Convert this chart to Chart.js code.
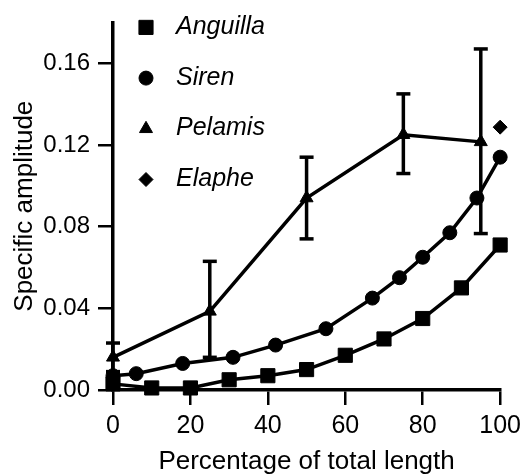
<!DOCTYPE html>
<html lang="en">
<head>
<meta charset="UTF-8">
<title>Specific amplitude</title>
<script src="https://cdn.jsdelivr.net/npm/chart.js"></script>
<style>
  body { margin: 0; background: #fff; }
  #chart { display: block; }
</style>
</head>
<body>
<canvas id="chart" width="527" height="475"></canvas>
<script>
// values
const anguillaX = [0, 10, 20, 30, 40, 50, 60, 70, 80, 90, 100];
const anguillaY = [0.003, 0.001, 0.001, 0.005, 0.007, 0.010, 0.017, 0.025, 0.035, 0.050, 0.071];

const sirenX = [0, 6, 18, 31, 42, 55, 67, 74, 80, 87, 94, 100];
const sirenY = [0.007, 0.008, 0.013, 0.016, 0.022, 0.030, 0.045, 0.055, 0.065, 0.077, 0.094, 0.114];

const pelamisX = [0, 25, 50, 75, 95];
const pelamisY = [0.016, 0.0385, 0.094, 0.125, 0.1215];
const pelamisLow = [0.009, 0.016, 0.074, 0.106, 0.0766];
const pelamisHigh = [0.023, 0.063, 0.114, 0.145, 0.167];

const elapheX = [100];
const elapheY = [0.1287];

const legendNames = ['Anguilla', 'Siren', 'Pelamis', 'Elaphe'];
const xTicks = [0, 20, 40, 60, 80, 100];
const yTicks = [0, 0.04, 0.08, 0.12, 0.16];

const pts = (xs, ys) => xs.map((x, i) => ({ x: x, y: ys[i] }));

const black = '#000';
const series = (data, style, radius, line) => ({
    data: data,
    showLine: line,
    borderColor: black,
    backgroundColor: black,
    borderWidth: 3.5,
    pointStyle: style,
    pointRadius: radius,
    pointBackgroundColor: black,
    pointBorderColor: black,
    pointBorderWidth: 1,
    tension: 0,
    clip: false
});

const datasets = [
    series(pts(anguillaX, anguillaY), 'rect', 10, true),
    series(pts(sirenX, sirenY), 'circle', 7, true),
    series(pts(pelamisX, pelamisY), 'triangle', 7.5, true),
    series(pts(elapheX, elapheY), 'rectRot', 7, false)
];

// error bars: vertical segment with flat caps
pelamisX.forEach((x, i) => {
    datasets.push({
        data: [{ x: x, y: pelamisLow[i] }, { x: x, y: pelamisHigh[i] }],
        showLine: true,
        borderColor: black,
        borderWidth: 3.5,
        pointStyle: 'line',
        pointRadius: 7,
        pointBorderColor: black,
        pointBorderWidth: 3.5,
        clip: false
    });
});

// legend drawn inside the plot, top left
const insideLegend = {
    id: 'insideLegend',
    afterDatasetsDraw(chart) {
        const ctx = chart.ctx;
        const area = chart.chartArea;
        ctx.save();
        ctx.fillStyle = black;
        ctx.strokeStyle = black;
        ctx.lineWidth = 1;
        ctx.font = 'italic 25px "Liberation Sans", Arial, sans-serif';
        ctx.textBaseline = 'alphabetic';
        ctx.textAlign = 'left';
        legendNames.forEach((name, i) => {
            const ds = chart.data.datasets[i];
            const baseline = area.top + 11.5 + i * 50.7;
            Chart.helpers.drawPoint(ctx, {
                pointStyle: ds.pointStyle,
                radius: ds.pointRadius,
                rotation: 0,
                borderWidth: 1
            }, area.left + 33, baseline - 6.5);
            ctx.fillText(name, area.left + 63, baseline);
        });
        ctx.restore();
    }
};

new Chart(document.getElementById('chart'), {
    type: 'scatter',
    data: { datasets: datasets },
    plugins: [insideLegend],
    options: {
        responsive: false,
        animation: false,
        devicePixelRatio: 1,
        layout: { padding: { top: 16.5, right: 25, left: 0, bottom: 0 } },
        plugins: {
            legend: { display: false },
            tooltip: { enabled: false }
        },
        scales: {
            x: {
                type: 'linear',
                min: 0,
                max: 100,
                afterFit: s => { s.height = 85; },
                afterBuildTicks: s => { s.ticks = xTicks.map(v => ({ value: v })); },
                border: { color: black, width: 3.5 },
                grid: { drawOnChartArea: false, drawTicks: true, tickLength: 15, color: black, lineWidth: 2.5 },
                ticks: {
                    color: black,
                    padding: 6,
                    maxRotation: 0,
                    font: { family: '"Liberation Sans", Arial, sans-serif', size: 25 }
                },
                title: {
                    display: true,
                    text: 'Percentage of total length',
                    color: black,
                    padding: { top: 0, bottom: 0 },
                    font: { family: '"Liberation Sans", Arial, sans-serif', size: 26, lineHeight: 1 }
                }
            },
            y: {
                min: 0,
                max: 0.18,
                afterFit: s => { s.width = 113; },
                afterBuildTicks: s => { s.ticks = yTicks.map(v => ({ value: v })); },
                border: { color: black, width: 3.5 },
                grid: { drawOnChartArea: false, drawTicks: true, tickLength: 15, color: black, lineWidth: 2.5 },
                ticks: {
                    color: black,
                    padding: 8,
                    callback: v => v.toFixed(2),
                    font: { family: '"Liberation Sans", Arial, sans-serif', size: 24 }
                },
                title: {
                    display: true,
                    text: 'Specific amplitude',
                    color: black,
                    padding: { top: 12, bottom: 0 },
                    font: { family: '"Liberation Sans", Arial, sans-serif', size: 26, lineHeight: 1 }
                }
            }
        }
    }
});
</script>
</body>
</html>
